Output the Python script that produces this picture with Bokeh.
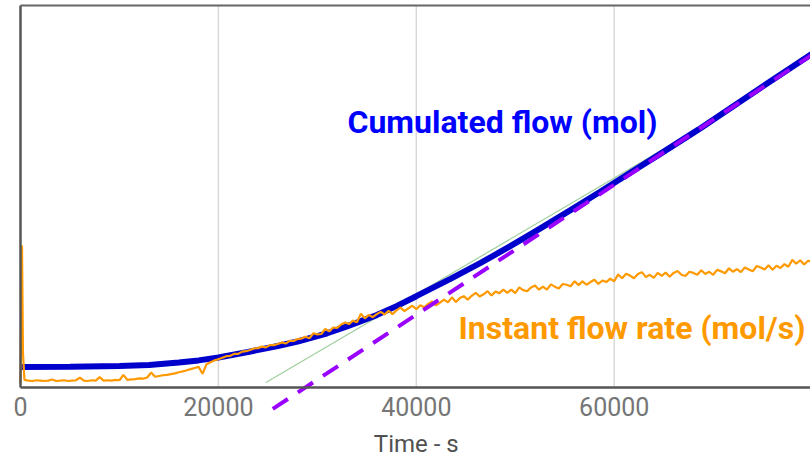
from bokeh.plotting import figure
from bokeh.models import Range1d, Label
from bokeh.embed import file_html
from bokeh.resources import INLINE

# Tick labels of the time axis (s)
time_ticks = [0, 20000, 40000, 60000]
time_labels = ["0", "20000", "40000", "60000"]
x_title = "Time - s"

# Cumulated flow (mol) - thick blue curve
cum_t = [0, 5000, 10000, 13000, 16000, 18000, 20000, 23000, 26000, 28000,
         31000, 33000, 36000, 38000, 40000, 43500, 46500, 49500, 52500, 55500,
         58500, 61500, 64500, 68500, 73500, 80000]
cum_y = [5.37, 5.45, 5.60, 5.89, 6.52, 7.09, 7.85, 9.29, 10.86, 12.04,
         14.19, 16.0, 18.95, 21.3, 23.9, 28.5, 32.6, 37.0, 41.6, 46.3,
         51.1, 56.0, 60.9, 67.5, 76.2, 87.4]

# Tangent (thin green line)
tan_t = [24800, 68600]
tan_y = [1.3, 67.9]

# Asymptote (purple dashed line)
asym_t = [25500, 80000]
asym_y = [-5.6, 87.1]

# Instant flow rate (mol/s) - noisy orange line
rate_t = [0, 150, 250, 400] + list(range(800, 80001, 400))
rate_y = [1.2, 37.2, 9.0, 2.0,
          1.8, 1.7, 1.9, 1.8, 1.7, 1.8, 2.1, 1.7, 1.8, 1.9,
          1.7, 1.8, 1.9, 2.6, 1.8, 1.7, 1.9, 1.8, 2.7, 1.8,
          1.9, 1.8, 2.0, 1.9, 3.3, 2.0, 2.1, 2.2, 2.4, 2.3,
          2.6, 3.9, 2.8, 3.0, 3.2, 3.3, 3.5, 3.7, 4.0, 4.2,
          4.5, 4.8, 5.1, 5.4, 3.6, 6.1, 6.6, 7.1, 7.4, 7.8,
          8.2, 8.3, 8.8, 8.8, 9.4, 9.5, 9.8, 10.2, 10.3, 10.7,
          10.5, 11.1, 11.1, 11.4, 11.8, 11.5, 12.2, 12.2, 12.7, 12.8,
          13.3, 12.9, 14.2, 13.9, 14.0, 15.3, 14.7, 15.7, 15.6, 16.5,
          17.0, 16.6, 17.5, 17.1, 19.3, 18.1, 19.0, 18.4, 19.2, 19.8,
          19.1, 20.1, 19.2, 20.2, 20.9, 20.0, 20.7, 21.4, 20.5, 21.5,
          21.0, 21.9, 22.5, 21.5, 22.2, 23.0, 22.3, 23.6, 22.4, 23.4,
          23.9, 23.0, 24.0, 24.8, 23.8, 24.4, 25.2, 24.1, 25.1, 24.7,
          25.6, 24.8, 25.6, 24.7, 26.2, 25.5, 25.2, 26.2, 26.7, 25.6,
          26.4, 25.6, 27.0, 26.4, 25.9, 27.1, 26.9, 26.5, 27.8, 26.8,
          27.8, 26.9, 27.6, 28.2, 27.1, 28.0, 27.6, 28.5, 27.8, 29.6,
          28.6, 29.8, 29.3, 28.6, 29.7, 30.2, 28.9, 29.5, 28.7, 30.0,
          29.2, 30.1, 29.0, 30.0, 30.5, 29.5, 29.2, 30.3, 30.0, 29.5,
          30.7, 29.7, 30.3, 29.5, 30.8, 30.4, 29.9, 31.2, 30.3, 31.0,
          30.2, 31.4, 30.9, 30.4, 31.8, 31.4, 30.9, 32.0, 30.8, 31.9,
          31.3, 32.3, 31.6, 33.4, 32.4, 33.3, 32.2, 33.2, 32.8]
assert len(rate_t) == len(rate_y)

# Frame covers the whole canvas so the dashed asymptote can run below the axis
p = figure(width=810, height=458, output_backend="svg", toolbar_location=None,
           x_range=Range1d(-2021, 79838), y_range=Range1d(-18.59, 101.31),
           min_border=0)
p.outline_line_color = None
p.background_fill_color = "white"
p.border_fill_color = "white"
p.xaxis.visible = False
p.yaxis.visible = False
p.grid.visible = False

t_max = 82000
y_top = 100

# vertical grid lines
grid_t = time_ticks[1:]
p.segment(x0=grid_t, y0=[0] * len(grid_t), x1=grid_t, y1=[y_top] * len(grid_t),
          line_color="#d9d9d9", line_width=1.5)

p.line(tan_t, tan_y, line_color="#9fcf9f", line_width=1.2)
p.line(cum_t, cum_y, line_color="#0000cc", line_width=6)
p.line(rate_t, rate_y, line_color="#ff9900", line_width=2.2)
p.line(asym_t, asym_y, line_color="#9900ff", line_width=4, line_dash="18 12")

# frame lines: bottom axis, left axis, top border
p.segment(x0=[0, 0, 0], y0=[0, 0, y_top], x1=[t_max, 0, t_max], y1=[0, y_top, y_top],
          line_color=["#555555", "#555555", "#666666"], line_width=[2.5, 2.5, 2])

# tick labels and axis title
p.text(x=time_ticks, y=-5.1, text=time_labels, text_font={"value": "Roboto"},
       text_font_size={"value": "25px"}, text_color="#757575",
       text_align="center", text_baseline="alphabetic")
p.text(x=[40000], y=-14.8, text=[x_title], text_font={"value": "Roboto"},
       text_font_size={"value": "24px"}, text_color="#505050",
       text_align="center", text_baseline="alphabetic")

p.add_layout(Label(x=33047, y=69.5, text="Cumulated flow (mol)", text_font="Roboto",
                   text_font_size="32px", text_font_style="bold", text_color="#0000ff",
                   text_baseline="alphabetic", text_align="left"))
p.add_layout(Label(x=44265, y=15.7, text="Instant flow rate (mol/s)", text_font="Roboto",
                   text_font_size="32px", text_font_style="bold", text_color="#ff9900",
                   text_baseline="alphabetic", text_align="left"))

open("out.html", "w").write(file_html(p, INLINE))
